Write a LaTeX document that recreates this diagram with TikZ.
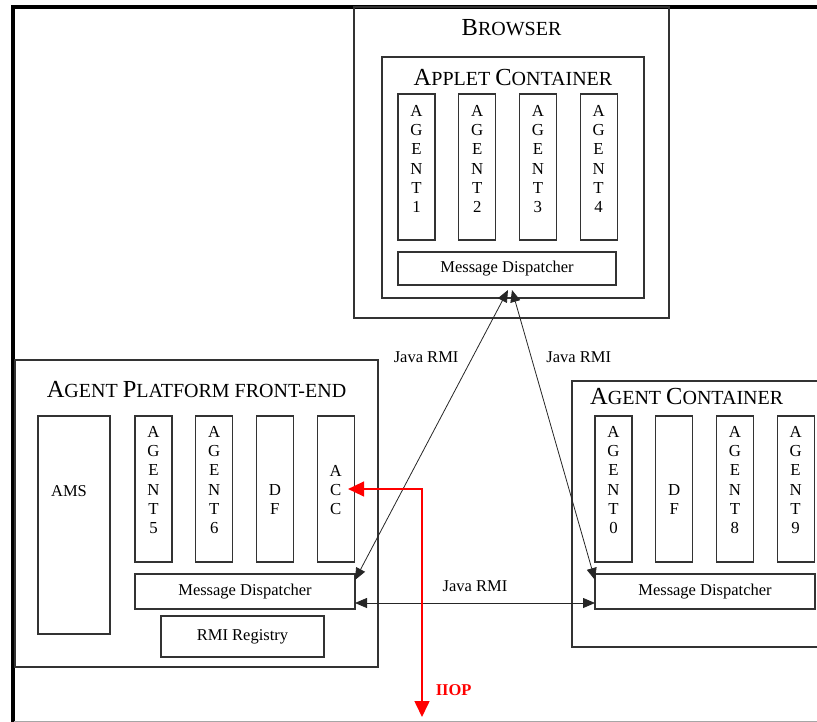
\documentclass[tikz,border=0pt]{standalone}
\usepackage{fontspec}
\setmainfont{Liberation Serif}
\usetikzlibrary{arrows.meta,positioning}

% big first letter, rest in the (smaller) node font
\newcommand{\titlecaps}[2]{{\fontsize{24.5}{28}\selectfont #1}#2}

\begin{document}
\begin{tikzpicture}[x=1pt, y=-1pt, node distance=23.7pt,
  box/.style={draw=black!80, line width=1.1pt, inner sep=0pt, outer sep=0pt, anchor=north west,
    font=\fontsize{16.5}{19}\selectfont},
  agentbox/.style={box, minimum width=37pt, minimum height=146pt},
  mdbox/.style={box, minimum width=220pt, minimum height=35pt},
  agenttxt/.style={inner sep=0pt, align=center, font=\fontsize{16.8}{19.3}\selectfont},
  titletxt/.style={inner sep=0pt, anchor=base, font=\fontsize{20}{24}\selectfont},
  lbl/.style={inner sep=0pt, font=\fontsize{16.5}{19}\selectfont},
  rmi/.style={draw=black!85, line width=0.8pt,
    {Triangle[length=12pt,width=10pt]}-{Triangle[length=12pt,width=10pt]}},
  iiop/.style={draw=red, line width=1.6pt,
    {Triangle[length=16pt,width=15pt]}-{Triangle[length=16pt,width=15pt]}}]

  \path[use as bounding box, clip] (0,0) rectangle (817,722);

  % outer frame
  \draw[line width=4pt] (12.5,730) -- (12.5,7) -- (830,7);
  \draw[black!35, line width=0.8pt] (14,721) -- (830,721);

  % browser
  \node[box, minimum width=315pt, minimum height=311pt] (browser) at (354,7) {};
  \node[titletxt] (browsertitle) at ([yshift=-29pt]browser.north) {\titlecaps{B}{ROWSER}};
  \node[box, minimum width=262pt, minimum height=241pt] (applet) at (382,57) {};
  \node[titletxt] (applettitle) at ([yshift=-29pt]applet.north) {\titlecaps{A}{PPLET} \titlecaps{C}{ONTAINER}};

  \node[agentbox] (a1) at (398,94) {};
  \node[agentbox, right=of a1] (a2) {};
  \node[agentbox, right=of a2] (a3) {};
  \node[agentbox, right=of a3] (a4) {};
  \node[agenttxt, below=11pt of a1.north] (t1) {A\\G\\E\\N\\T\\1};
  \node[agenttxt, below=11pt of a2.north] (t2) {A\\G\\E\\N\\T\\2};
  \node[agenttxt, below=11pt of a3.north] (t3) {A\\G\\E\\N\\T\\3};
  \node[agenttxt, below=11pt of a4.north] (t4) {A\\G\\E\\N\\T\\4};
  \node[box, minimum width=218pt, minimum height=33pt] (bmd) at (398,252) {Message Dispatcher};

  % agent platform front-end
  \node[box, minimum width=363pt, minimum height=307pt] (platform) at (15,360) {};
  \node[titletxt] (platformtitle) at ([yshift=-37pt]platform.north)
    {\titlecaps{A}{GENT} \titlecaps{P}{LATFORM} FRONT-END};
  \node[box, minimum width=72pt, minimum height=218pt] (ams) at (38,416) {};
  \node[lbl, anchor=north] (amstxt) at ([xshift=-5pt,yshift=-69pt]ams.north) {AMS};

  \node[agentbox] (a5) at (135,416) {};
  \node[agentbox, right=of a5] (a6) {};
  \node[agentbox, right=of a6] (apdf) {};
  \node[agentbox, right=of apdf] (acc) {};
  \node[agenttxt, below=10pt of a5.north] (t5) {A\\G\\E\\N\\T\\5};
  \node[agenttxt, below=10pt of a6.north] (t6) {A\\G\\E\\N\\T\\6};
  \node[agenttxt, below=68pt of apdf.north] (tapdf) {D\\F};
  \node[agenttxt, below=49pt of acc.north] (tacc) {A\\C\\C};
  \node[mdbox] (apmd) at (135,574) {Message Dispatcher};
  \node[box, minimum width=163pt, minimum height=41pt] (registry) at (161,616) {RMI Registry};

  % agent container
  \node[box, minimum width=300pt, minimum height=266pt] (container) at (572,381) {};
  \node[titletxt, anchor=base west] (containertitle) at ([xshift=18pt,yshift=-23pt]container.north west)
    {\titlecaps{A}{GENT} \titlecaps{C}{ONTAINER}};
  \node[agentbox] (a0) at (595,416) {};
  \node[agentbox, right=of a0] (acdf) {};
  \node[agentbox, right=of acdf] (a8) {};
  \node[agentbox, right=of a8] (a9) {};
  \node[agenttxt, below=10pt of a0.north] (t0) {A\\G\\E\\N\\T\\0};
  \node[agenttxt, below=68pt of acdf.north] (tacdf) {D\\F};
  \node[agenttxt, below=10pt of a8.north] (t8) {A\\G\\E\\N\\T\\8};
  \node[agenttxt, below=10pt of a9.north] (t9) {A\\G\\E\\N\\T\\9};
  \node[mdbox] (acmd) at (595,574) {Message Dispatcher};

  % connections
  \draw[rmi] ([xshift=1pt,yshift=-5pt]bmd.south) -- node[lbl, pos=0.23, left=14pt] (rmileft) {Java RMI}
    ([yshift=-6pt]apmd.north east);
  \draw[rmi] ([xshift=5pt,yshift=-5pt]bmd.south) -- node[lbl, pos=0.23, right=15pt] (rmiright) {Java RMI}
    ([yshift=-6pt]acmd.north west);
  \draw[rmi] ([yshift=6pt]apmd.south east) -- node[lbl, above=11pt] (rmimid) {Java RMI}
    ([yshift=6pt]acmd.south west);

  \coordinate (iiopend) at (422,717);
  \draw[iiop] (iiopend) |- node[lbl, pos=0.06, right=13pt, red, font=\bfseries\fontsize{16.5}{19}\selectfont] (iioplbl) {IIOP}
    ([xshift=-6pt]acc.east);
\end{tikzpicture}
\end{document}
